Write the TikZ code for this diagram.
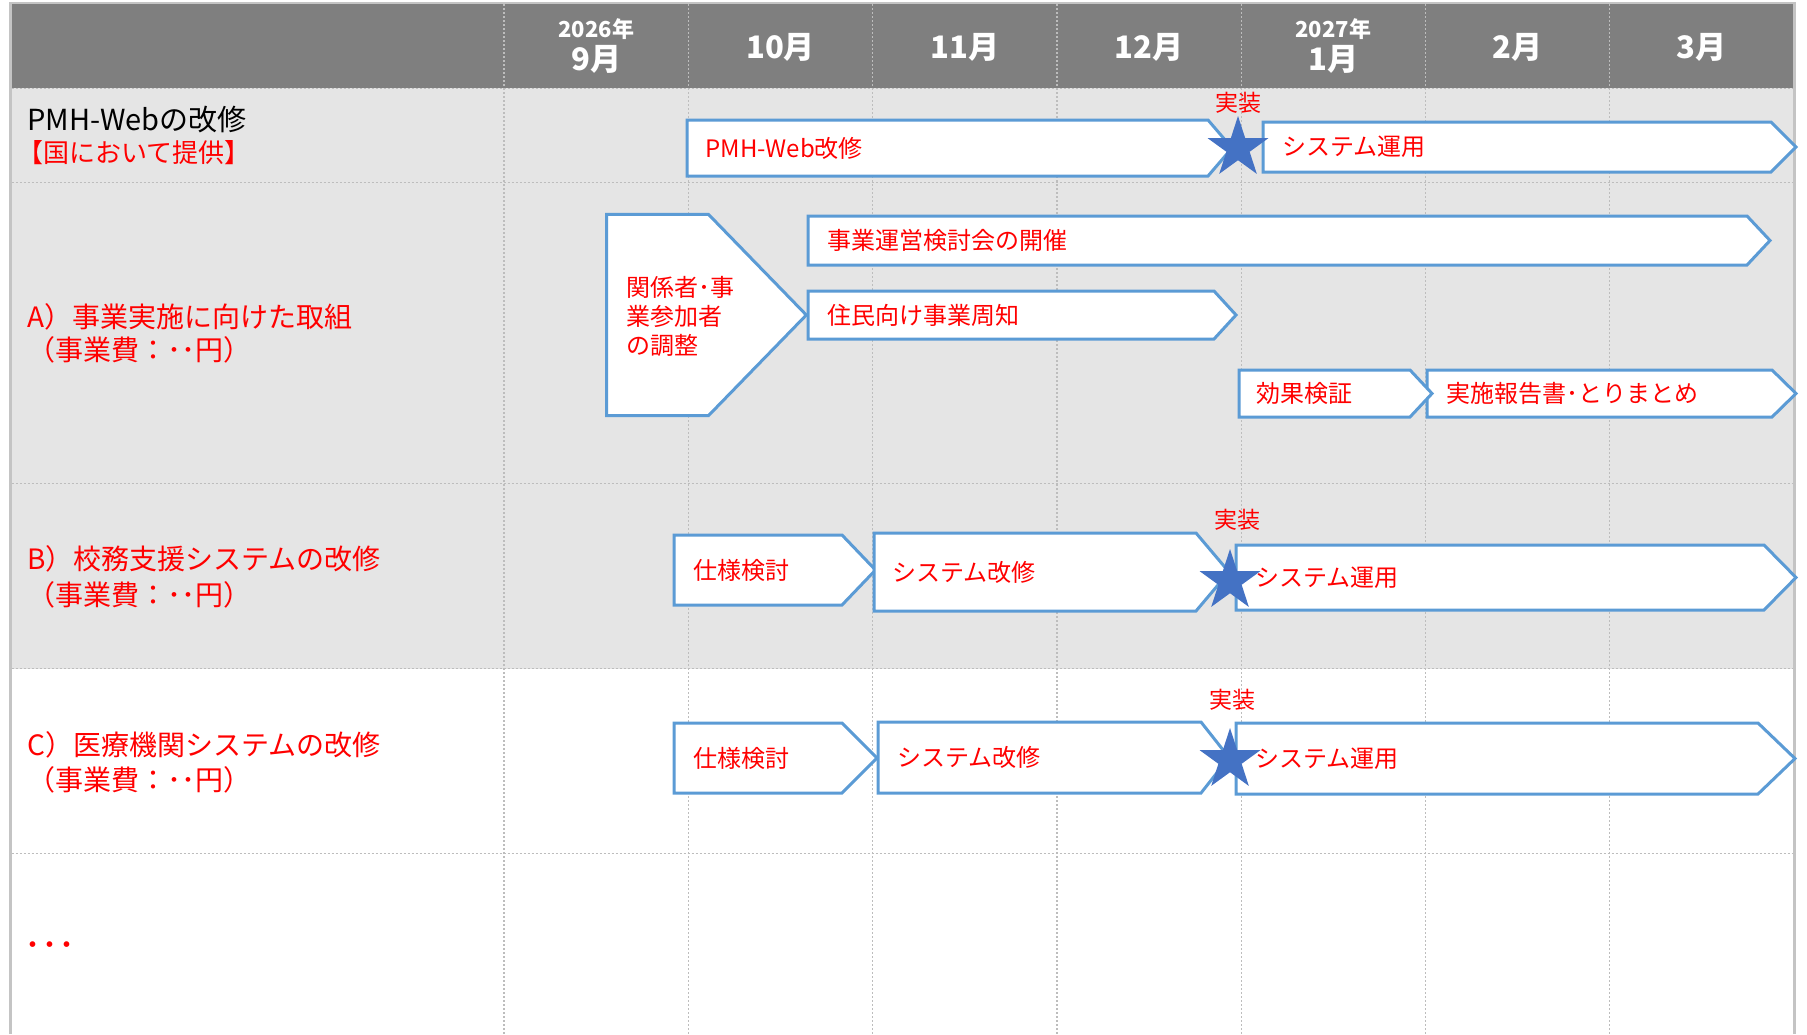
\documentclass[tikz,border=0pt]{standalone}
\usepackage{fontspec}
\setmainfont{Noto Sans CJK JP}
\usetikzlibrary{shapes.geometric}
\definecolor{headgray}{HTML}{7F7F7F}
\definecolor{rowgray}{HTML}{E5E5E5}
\definecolor{gridgray}{HTML}{BDBDBD}
\definecolor{bordergray}{HTML}{C4C4C4}
\definecolor{barblue}{HTML}{5B9BD5}
\definecolor{starblue}{HTML}{4472C4}
\newcommand{\ganttbar}[8]{%
  \draw[barshape] (#2,#3) -- (#5,#3) -- (#6,{(#3+#4)/2}) -- (#5,#4) -- (#2,#4) -- cycle;
  \node[bartext] (#1) at (#7,{(#3+#4)/2}) {#8};}
\begin{document}
\begin{tikzpicture}[x=0.5pt,y=-0.5pt,
  grid/.style={draw=gridgray, line width=0.6pt, dash pattern=on 1pt off 1pt},
  barshape/.style={draw=barblue, fill=white, line width=1.5pt, line join=miter},
  bartext/.style={text=red, font=\fontsize{12}{14}\selectfont, anchor=west, inner sep=0pt},
  head/.style={text=white, font=\bfseries\fontsize{15.5}{18}\selectfont, inner sep=0pt},
  year/.style={text=white, font=\bfseries\fontsize{11}{13}\selectfont, inner sep=0pt},
  lbl/.style={text=red, font=\fontsize{14}{17}\selectfont, anchor=west, inner sep=0pt},
  milestone/.style={star, star points=5, star point ratio=2.618, fill=starblue, draw=none, minimum size=32pt, inner sep=0pt},
  impl/.style={text=red, font=\fontsize{11.5}{13}\selectfont, inner sep=0pt}]
\useasboundingbox (0,0) rectangle (1807,1034);
% backgrounds
\fill[headgray] (11.5,4) rectangle (1793.5,88.3);
\fill[rowgray] (11.5,88.3) rectangle (1793.5,668.7);
% grid
\foreach \i in {0,...,6} {\draw[grid] ({504+184.3*\i},4) -- ({504+184.3*\i},1034);}
\foreach \y in {88.3,182.3,483.3,668.7,853.7} {\draw[grid] (11.5,\y) -- (1793.5,\y);}
% border
\draw[bordergray, line width=1.2pt] (10.3,1034) -- (10.3,3) -- (1794.5,3) -- (1794.5,1034);
% header
\node[year] (y2026) at (596.2,29) {2026年};
\node[head] (m9) at (596.2,59) {9月};
\node[head] (m10) at (780.5,47) {10月};
\node[head] (m11) at (964.8,47) {11月};
\node[head] (m12) at (1149.0,47) {12月};
\node[year] (y2027) at (1333.3,29) {2027年};
\node[head] (m1) at (1333.3,59) {1月};
\node[head] (m2) at (1517.6,47) {2月};
\node[head] (m3) at (1701.9,47) {3月};
% row labels
\node[lbl, text=black, font=\fontsize{14.5}{17}\selectfont] (pmh) at (27,120) {PMH-Webの改修};
\node[lbl, font=\fontsize{13}{16}\selectfont] (pmhsub) at (17,153) {【国において提供】};
\node[lbl] (la1) at (27,316.7) {A）事業実施に向けた取組};
\node[lbl] (la2) at (27,350) {（事業費：･･円）};
\node[lbl] (lb1) at (27,558.7) {B）校務支援システムの改修};
\node[lbl] (lb2) at (27,595.3) {（事業費：･･円）};
\node[lbl] (lc1) at (27,745.3) {C）医療機関システムの改修};
\node[lbl] (lc2) at (27,780.3) {（事業費：･･円）};
\node[lbl, font=\fontsize{17}{20}\selectfont] (ldots) at (24,950) {･･･};
% row PMH
\ganttbar{pmhbar}{687}{120}{176}{1208}{1232}{705}{PMH-Web改修}
\ganttbar{op1}{1263}{122}{172}{1771}{1796}{1282}{システム運用}
\node[milestone] (s1) at (1238,148) {};
\node[impl] (i1) at (1238,102.5) {実装};
% row A
\draw[barshape] (606.5,214.3) -- (708.4,214.3) -- (806.3,315) -- (708.4,415.7) -- (606.5,415.7) -- cycle;
\node[bartext, align=left, font=\fontsize{12}{14.5}\selectfont] (coord) at (626,316) {関係者･事\\業参加者\\の調整};
\ganttbar{meet}{808}{216}{265}{1747}{1770}{827}{事業運営検討会の開催}
\ganttbar{notice}{808}{291}{339}{1214}{1236}{827}{住民向け事業周知}
\ganttbar{report}{1427}{370}{417}{1772}{1796}{1446}{実施報告書･とりまとめ}
\ganttbar{effect}{1239}{370}{417}{1410}{1432}{1256}{効果検証}
% row B
\ganttbar{specb}{674}{535}{605}{842}{875.5}{693}{仕様検討}
\ganttbar{modb}{874}{533}{611}{1196}{1229}{892}{システム改修}
\ganttbar{opb}{1236}{545}{610}{1764}{1796}{1255}{システム運用}
\node[milestone] (s2) at (1230,581) {};
\node[impl] (i2) at (1237,520) {実装};
% row C
\ganttbar{specc}{674}{723}{793}{842}{877}{693}{仕様検討}
\ganttbar{modc}{878}{722}{793}{1201}{1229}{897}{システム改修}
\ganttbar{opc}{1236}{723}{794}{1758}{1795}{1255}{システム運用}
\node[milestone] (s3) at (1230,760) {};
\node[impl] (i3) at (1232,700) {実装};
\end{tikzpicture}
\end{document}
